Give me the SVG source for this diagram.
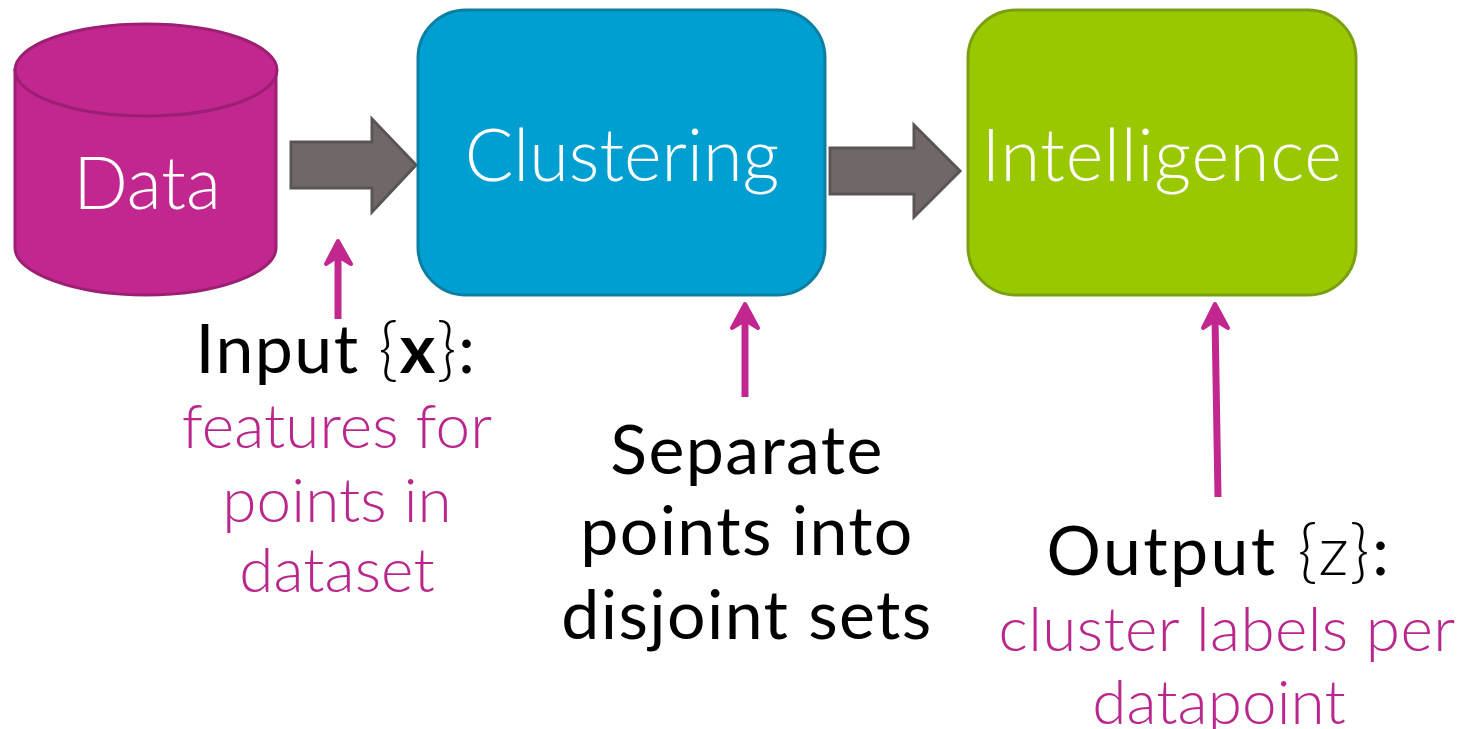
<svg xmlns="http://www.w3.org/2000/svg" width="1460" height="729" viewBox="0 0 1460 729">
<style>
text{font-family:Lato,"Open Sans","Liberation Sans",sans-serif;text-anchor:middle}
.w{fill:#fff;font-size:72px;font-weight:300}
.b{fill:#000;font-size:68px;font-weight:400;letter-spacing:1.4px}
.m{fill:#b9278c;font-size:62px;font-weight:300;letter-spacing:.1px}
.l{font-weight:300}
.arr{fill:#706868;stroke:#5a5555;stroke-width:3}
.pk{fill:none;stroke:#c1278f;stroke-width:7}
.pkf{fill:#c1278f;stroke:#c1278f;stroke-width:4;stroke-linejoin:round}
</style>
<rect width="1460" height="729" fill="#fff"/>
<g id="connectors">
<path class="arr" d="M291 142H372V119L416 165L372 212V188H291Z"/>
<path class="arr" d="M830 148H914V125L960 171L914 217V194H830Z"/>
<path class="pk" d="M338 319V252"/>
<path class="pkf" d="M338 241L351 264L338 256L326 264Z"/>
<path class="pk" d="M745 397V318"/>
<path class="pkf" d="M745 304L758 328L745 320L732 328Z"/>
<path class="pk" d="M1218 497L1215 318"/>
<path class="pkf" d="M1215 304L1228 328L1215 320L1203 328Z"/>
</g>
<g id="data">
<path d="M15 70V248C15 273 75 295 146 295C217 295 276 273 276 248V70Z" fill="#c1278f" stroke="#9c1f74" stroke-width="3"/>
<ellipse cx="146" cy="70" rx="131" ry="46" fill="#c1278f" stroke="#9c1f74" stroke-width="3"/>
<text class="w" x="147" y="209">Data</text>
</g>
<g id="clustering">
<rect x="418" y="10" width="407" height="285" rx="48" fill="#009fd2" stroke="#0a7ea3" stroke-width="3"/>
<text class="w" x="622" y="181">Clustering</text>
</g>
<g id="intelligence">
<rect x="968" y="10" width="388" height="285" rx="48" fill="#99c800" stroke="#7a9f10" stroke-width="3"/>
<text class="w" x="1162" y="181" style="letter-spacing:.8px">Intelligence</text>
</g>
<g id="input-label">
<text class="b" x="336" y="373">Input <tspan class="l">{</tspan><tspan font-weight="700">x</tspan><tspan class="l">}</tspan>:</text>
<text class="m" x="337" y="448">features for</text>
<text class="m" x="337" y="522">points in</text>
<text class="m" x="337" y="592">dataset</text>
</g>
<g id="cluster-label">
<text class="b" x="747" y="474">Separate</text>
<text class="b" x="747" y="555">points into</text>
<text class="b" x="747" y="639">disjoint sets</text>
</g>
<g id="output-label">
<text class="b" x="1219" y="575" style="letter-spacing:2.4px">Output <tspan class="l">{z}</tspan>:</text>
<text class="m" x="1227" y="651" style="letter-spacing:.4px">cluster labels per</text>
<text class="m" x="1219" y="724">datapoint</text>
</g>
</svg>
